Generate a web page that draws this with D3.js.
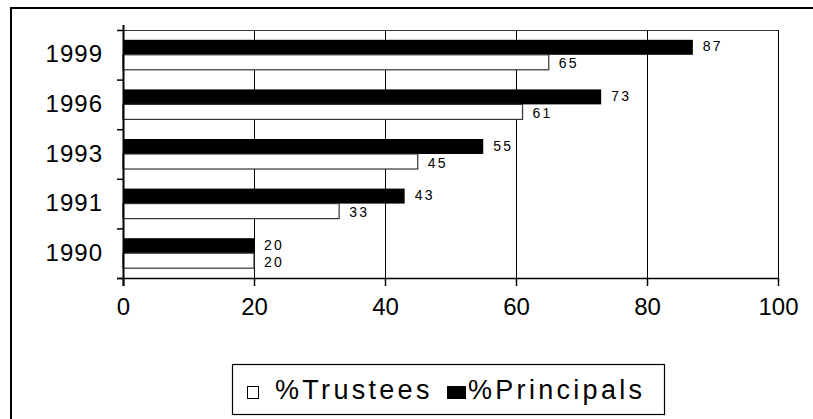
<!DOCTYPE html>
<html><head><meta charset="utf-8">
<script src="https://cdn.jsdelivr.net/npm/d3@7"></script>
<style>body{margin:0;background:#fff;} text{font-family:"Liberation Sans",Arial,sans-serif;}</style>
</head><body><svg id="c" width="813" height="419"></svg>
<script>
const years = ["1999","1996","1993","1991","1990"];
const trustees = [65,61,45,33,20];
const principals = [87,73,55,43,20];
const xTicks = [0,20,40,60,80,100];
const seriesNames = ["%Principals","%Trustees"];

const svg = d3.select("#c");
const L=123, R=778, T=30, B=278;
// outer frame
svg.append("rect").attr("x",11).attr("y",8).attr("width",900).attr("height",500)
  .attr("fill","none").attr("stroke","#000").attr("stroke-width",2);

const x = d3.scaleLinear().domain([0,100]).range([L,R]);
const y = d3.scaleBand().domain(years).range([T,B]).padding(0);
const sub = d3.scaleBand().domain(seriesNames).range([0,y.bandwidth()]).paddingInner(0).paddingOuter(0.653);

// plot border top/right
svg.append("line").attr("x1",L).attr("x2",R).attr("y1",T+0.5).attr("y2",T+0.5).attr("stroke","#333");
svg.append("line").attr("x1",R+0.5).attr("x2",R+0.5).attr("y1",T).attr("y2",B).attr("stroke","#000");
// gridlines
svg.selectAll(".grid").data(xTicks.slice(1,-1)).enter().append("line")
  .attr("x1",d=>Math.round(x(d))+0.5).attr("x2",d=>Math.round(x(d))+0.5)
  .attr("y1",T).attr("y2",B).attr("stroke","#000");

const data = years.map((yr,i)=>({yr, vals:[{s:"%Principals",v:principals[i]},{s:"%Trustees",v:trustees[i]}]}));
const g = svg.selectAll(".grp").data(data).enter().append("g").attr("transform",d=>`translate(0,${y(d.yr)})`);
g.selectAll("rect").data(d=>d.vals).enter().append("rect")
  .attr("x",x(0)).attr("y",d=>sub(d.s)).attr("height",sub.bandwidth())
  .attr("width",d=>x(d.v)-x(0))
  .attr("fill",d=>d.s==="%Principals"?"#000":"#fff")
  .attr("stroke",d=>d.s==="%Principals"?"none":"#333").attr("stroke-width",1.2);
g.selectAll("text").data(d=>d.vals).enter().append("text")
  .attr("x",d=>x(d.v)+10)
  .attr("y",d=>sub(d.s)+sub.bandwidth()/2+(d.s==="%Principals"?-1:1))
  .attr("dy","0.36em").attr("font-size",14).attr("letter-spacing","2.2px")
  .text(d=>d.v);

// axes
const xa = d3.axisBottom(x).tickValues(xTicks).tickSize(8).tickPadding(12);
const gx = svg.append("g").attr("transform",`translate(0,${B})`).call(xa);
gx.select(".domain").attr("d",`M${L-6},0.5H${R}`).attr("stroke","#000").attr("stroke-width",1.5);
gx.selectAll("text").attr("font-size",24).attr("font-family","Liberation Sans, Arial, sans-serif").attr("fill","#000");
gx.selectAll("line").attr("stroke","#000").attr("stroke-width",1.5);

const ya = d3.axisLeft(y).tickSize(0).tickPadding(20);
const gy = svg.append("g").attr("transform",`translate(${L},0)`).call(ya);
gy.select(".domain").attr("d",`M0.5,${T-5}V${B+8}`).attr("stroke","#000").attr("stroke-width",2);
gy.selectAll("text").attr("font-size",24).attr("font-family","Liberation Sans, Arial, sans-serif").attr("fill","#000").attr("letter-spacing","1px");
// y band-boundary ticks
const bounds = years.map(d=>y(d)).concat([B]);
svg.selectAll(".yt").data(bounds).enter().append("line")
  .attr("x1",L-6).attr("x2",L).attr("y1",d=>d+0.5).attr("y2",d=>d+0.5).attr("stroke","#000").attr("stroke-width",1.5);

// legend
const lg = svg.append("g");
lg.append("rect").attr("x",232.5).attr("y",364.5).attr("width",432).attr("height",50)
  .attr("fill","#fff").attr("stroke","#000").attr("stroke-width",1.2);
const legItems = [{s:"%Trustees",fill:"#fff",x:247,w:11,tx:275},{s:"%Principals",fill:"#000",x:447,w:18,tx:468}];
legItems.forEach(it=>{
  lg.append("rect").attr("x",it.x+0.5).attr("y",386.5).attr("width",it.w).attr("height",12)
    .attr("fill",it.fill).attr("stroke","#000").attr("stroke-width",1);
  lg.append("text").attr("x",it.tx).attr("y",399).attr("font-size",27).attr("letter-spacing","3.3px").text(it.s);
});
</script></body></html>
